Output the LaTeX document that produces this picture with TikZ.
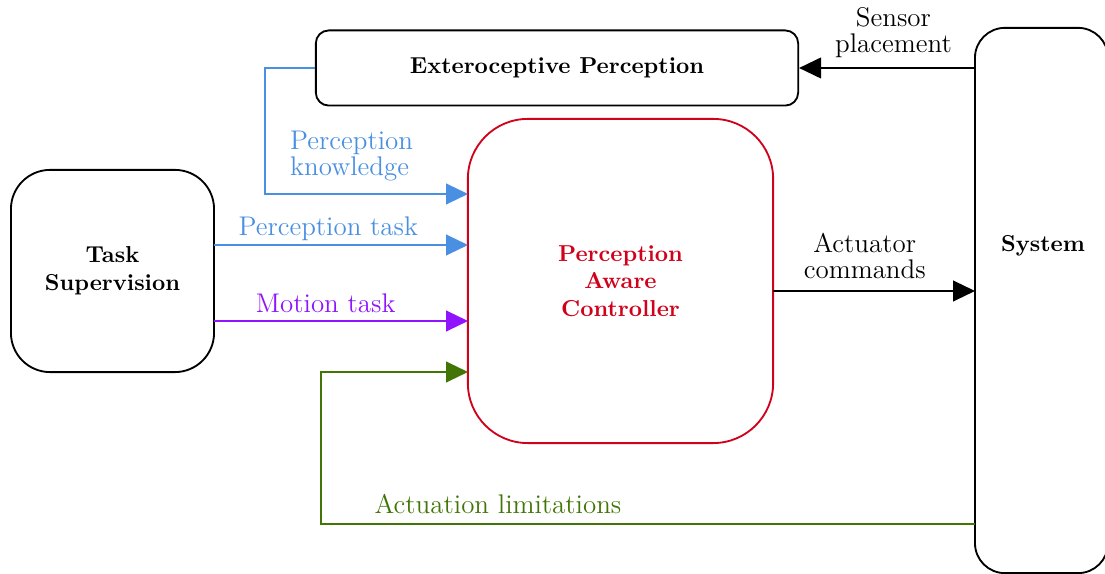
\documentclass[tikz,border=0pt]{standalone}
\usepackage{tikz}
\usetikzlibrary{positioning, shapes, arrows.meta}

\definecolor{percblue}{HTML}{4A90E2}
\definecolor{motionpurple}{HTML}{9013FE}
\definecolor{actgreen}{HTML}{417505}
\definecolor{ctrlred}{HTML}{D0021B}

\begin{document}
\begin{tikzpicture}[
        x=0.01525cm, y=-0.01525cm,
        box/.style={rectangle, draw, line width=0.8pt, inner sep=0pt, text centered, align=center, font=\bfseries},
        arrow/.style={-{Triangle[length=9.5pt, width=9pt]}, line width=0.7pt},
        lbl/.style={font=\fontsize{11.7}{11.3}\selectfont, align=center}
    ]

    \useasboundingbox (0,0) rectangle (1105,574);

    \node[box, rounded corners=5.6pt, minimum width=209.2pt, minimum height=32.6pt] (extero) at (557,68) {Exteroceptive Perception};
    \node[box, rounded corners=26pt, draw=ctrlred, text=ctrlred, minimum width=132.4pt, minimum height=140.6pt] (ctrl) at (620.5,281) {Perception\\Aware\\Controller};
    \node[box, rounded corners=17pt, minimum width=88.1pt, minimum height=87.7pt] (task) at (112.5,271) {Task\\Supervision};
    \node[box, rounded corners=13pt, minimum width=57.7pt, minimum height=236.5pt] (system) at (1041.5,300.5) {};
    \node[font=\bfseries] (systemtext) at (1043,246) {System};

    \coordinate (inknow) at (468,194);
    \coordinate (intask) at (468,245);
    \coordinate (inmotion) at (468,321);
    \coordinate (inlimit) at (468,372);
    \coordinate (outtask) at (214,245);
    \coordinate (outmotion) at (214,321);
    \coordinate (outlimit) at (975,524);
    \coordinate (outcmd) at (773,291);
    \coordinate (incmd) at (975,291);

    \draw[arrow] (system.west |- extero.east) -- (extero.east)
        node[lbl, midway, above=0.7pt, xshift=3pt] (sensorlbl) {Sensor\\placement};
    \draw[arrow, percblue] (extero.west) -| (265,194) -- (inknow);
    \node[lbl, text=percblue, align=left, anchor=west] (knowlbl) at (282,156) {Perception\\knowledge};
    \draw[arrow, percblue] (outtask) -- (intask)
        node[lbl, pos=0.45, above=-2pt] (tasklbl) {Perception task};
    \draw[arrow, motionpurple] (outmotion) -- (inmotion)
        node[lbl, pos=0.44, above=0pt] (motionlbl) {Motion task};
    \draw[arrow, actgreen] (outlimit) -| (321,372) -- (inlimit);
    \node[lbl, text=actgreen] (limitlbl) at (498,504) {Actuation limitations};
    \draw[arrow] (outcmd) -- (incmd)
        node[lbl, midway, above=1.5pt, xshift=-4pt] (cmdlbl) {Actuator\\commands};

\end{tikzpicture}
\end{document}
